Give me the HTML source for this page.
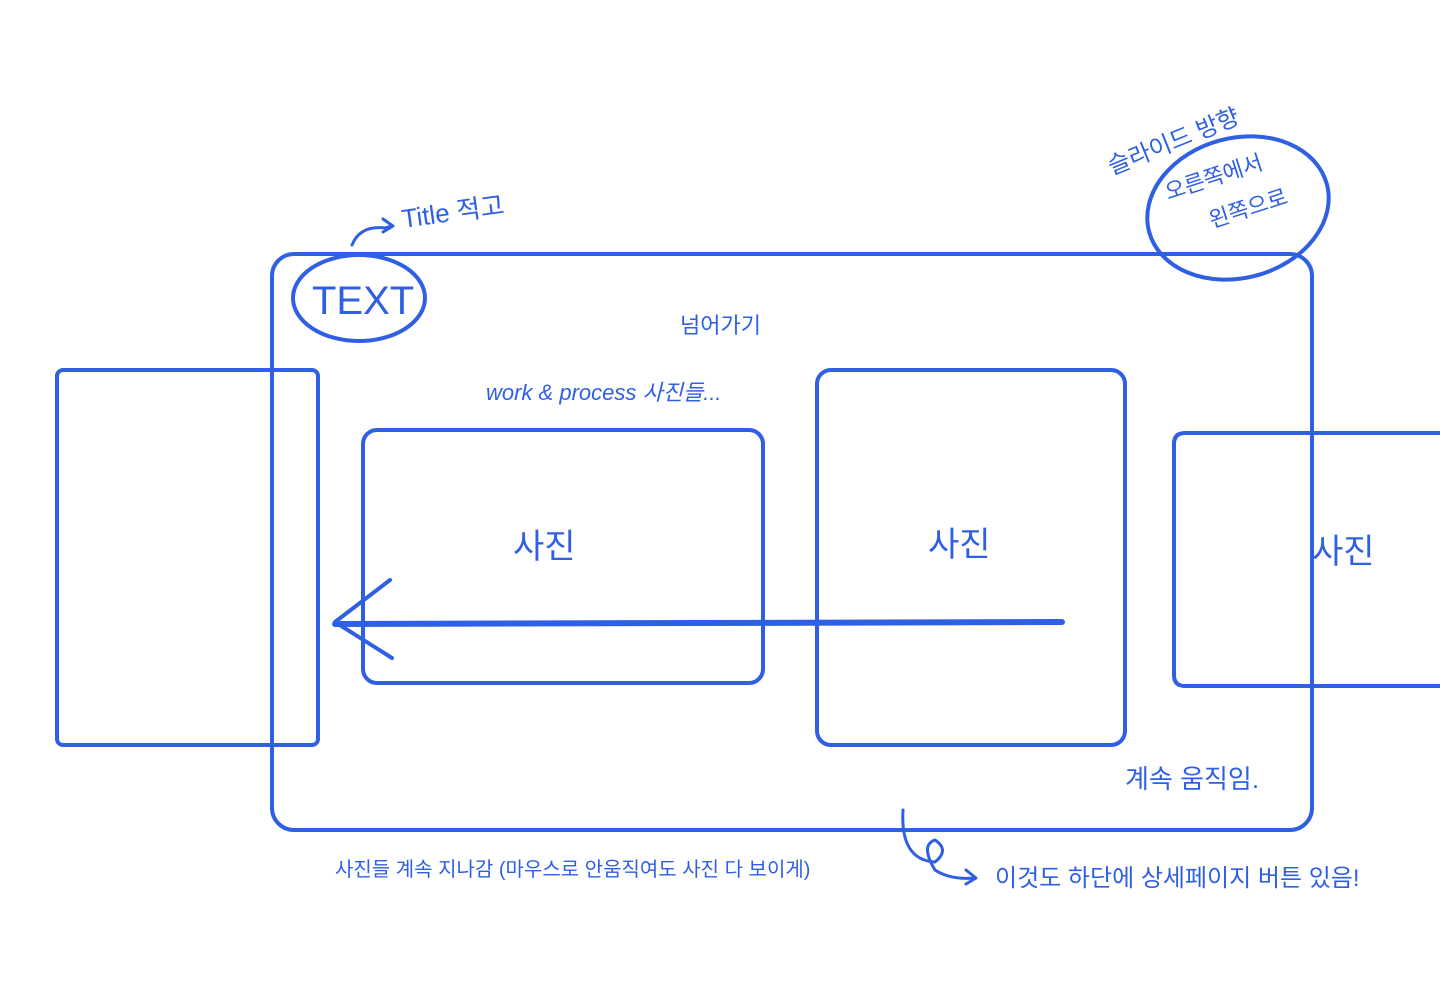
<!DOCTYPE html>
<html><head><meta charset="utf-8"><style>
html,body{margin:0;padding:0;background:#fff;width:1440px;height:1006px;overflow:hidden}
svg{display:block}
text{font-family:"Liberation Sans","Noto Sans CJK KR","NanumGothic",sans-serif;fill:#2f5fe3}
</style></head><body>
<svg width="1440" height="1006" viewBox="0 0 1440 1006" xmlns="http://www.w3.org/2000/svg">
<g fill="none" stroke="#2f5fe3" stroke-width="4" stroke-linecap="round" stroke-linejoin="round">
<rect x="272" y="254" width="1040" height="576" rx="22"/>
<rect x="57" y="370" width="261" height="375" rx="6"/>
<rect x="363" y="430" width="400" height="253" rx="14"/>
<rect x="817" y="370" width="308" height="375" rx="14"/>
<path d="M1440 433 H1185 Q1174 433 1174 444 V675 Q1174 686 1185 686 H1440"/>
<ellipse cx="359" cy="298" rx="66" ry="43"/>
<ellipse cx="1238" cy="208" rx="92" ry="70" transform="rotate(-15 1238 208)"/>
<path d="M1062 622 L335 624" stroke-width="6"/>
<path d="M390 580 L335 622 L392 658" stroke-width="4"/>
<path d="M352 245 Q360 225 385 228 L392 226" stroke-width="3"/>
<path d="M383 219 L393 226 L383 232" stroke-width="3"/>
<path d="M903 810 Q900 860 935 862 Q950 850 935 840 Q920 845 935 870 Q950 880 975 878" stroke-width="3"/>
<path d="M966 870 L976 878 L966 884" stroke-width="3"/>
</g>
<text x="312" y="314" font-size="40" font-weight="300">TEXT</text>
<text x="403" y="228" font-size="26" transform="rotate(-8 403 228)">Title 적고</text>
<text x="1112" y="175" font-size="24" transform="rotate(-22 1112 175)">슬라이드 방향</text>
<text x="1168" y="200" font-size="22" transform="rotate(-18 1168 200)">오른쪽에서</text>
<text x="1212" y="228" font-size="22" transform="rotate(-18 1212 228)">왼쪽으로</text>
<text x="680" y="333" font-size="22">넘어가기</text>
<text x="486" y="400" font-size="22" font-style="italic">work &amp; process 사진들...</text>
<text x="513" y="558" font-size="34">사진</text>
<text x="928" y="556" font-size="34">사진</text>
<text x="1312" y="563" font-size="34">사진</text>
<text x="1125" y="788" font-size="26">계속 움직임.</text>
<text x="335" y="876" font-size="20">사진들 계속 지나감 (마우스로 안움직여도 사진 다 보이게)</text>
<text x="995" y="886" font-size="24">이것도 하단에 상세페이지 버튼 있음!</text>
</svg>
</body></html>
